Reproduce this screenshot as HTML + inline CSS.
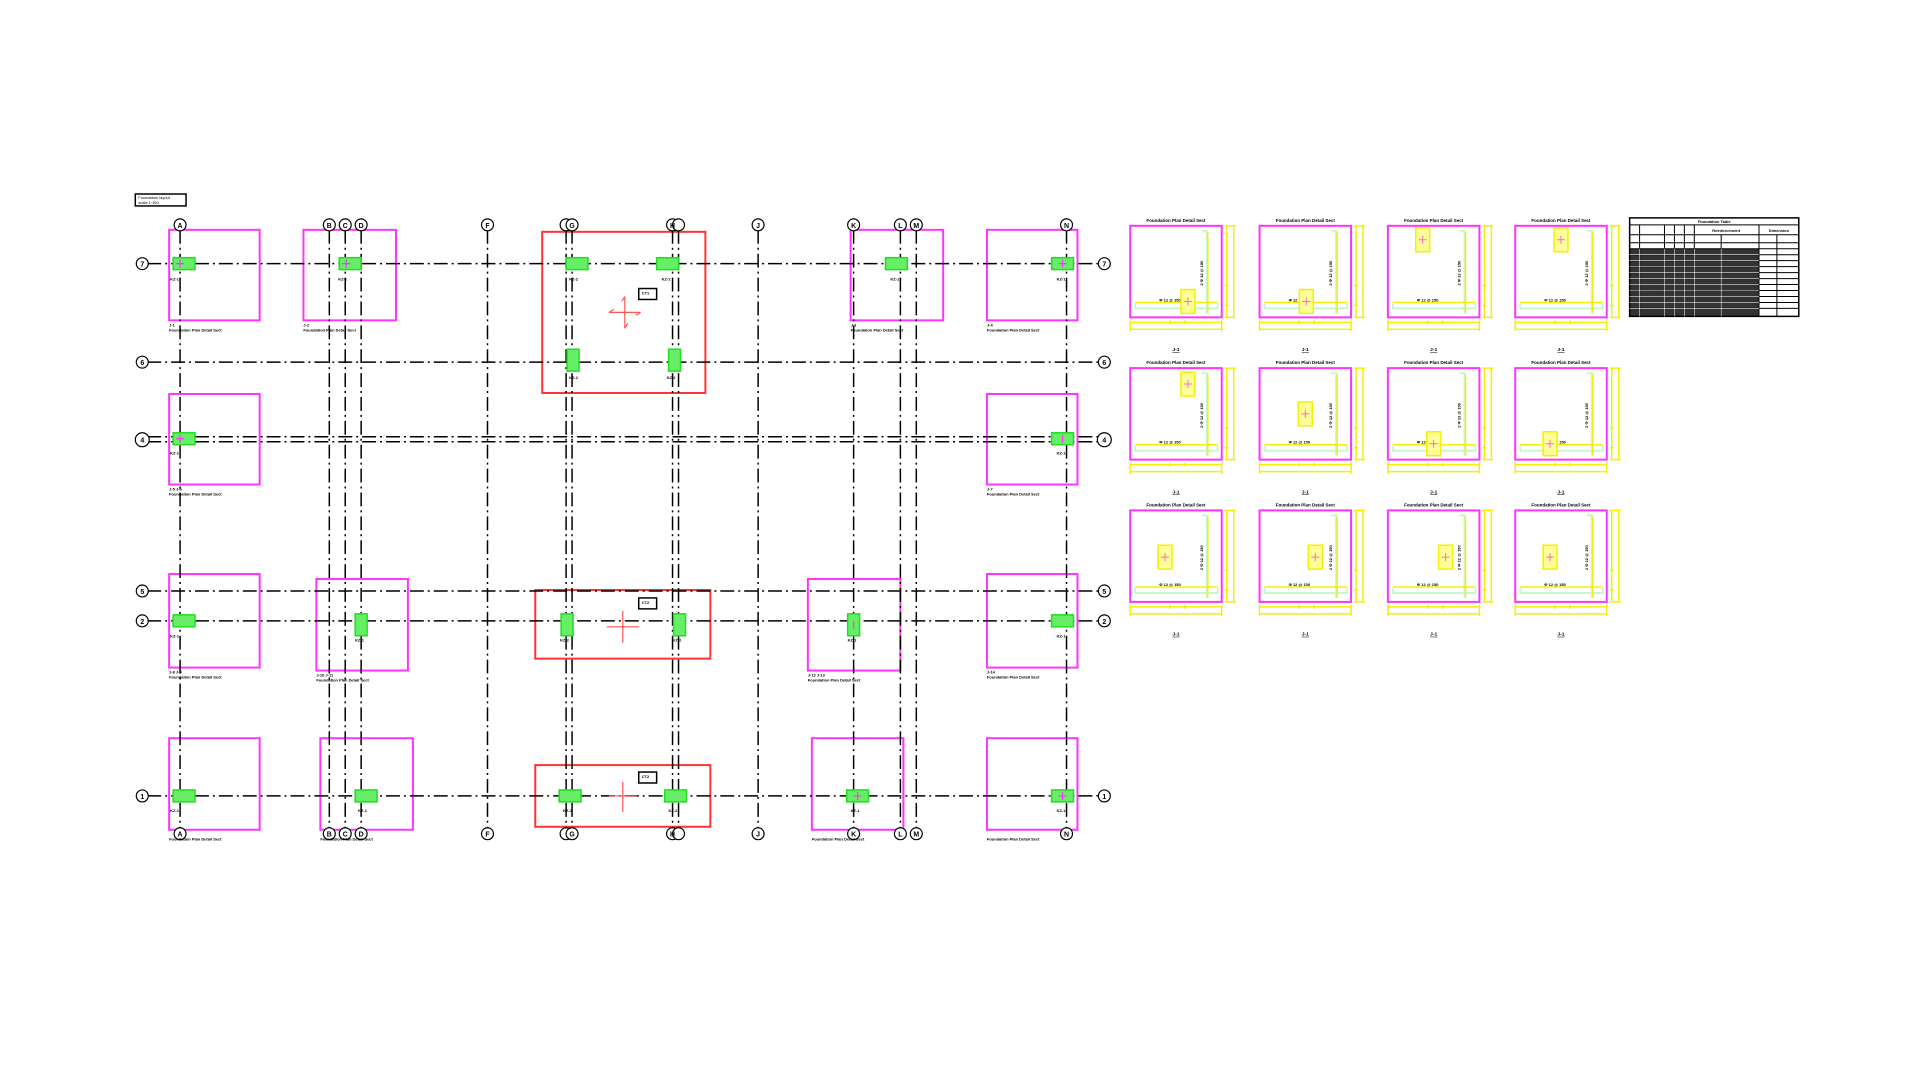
<!DOCTYPE html>
<html><head><meta charset="utf-8"><style>
html,body{margin:0;padding:0;background:#fff;}
svg{display:block;font-family:"Liberation Sans",sans-serif;}
</style></head><body>
<svg width="1920" height="1080" viewBox="0 0 1920 1080" xmlns="http://www.w3.org/2000/svg">
<defs>
<g id="pnl">
  <text x="46" y="-4" font-size="4.5" font-weight="bold" text-anchor="middle">Foundation Plan Detail Sect</text>
  <path d="M72 5 H77 V88 M5 78 V83 H88 V78" fill="none" stroke="#c8f7cf" stroke-width="2"/>
  <path d="M78 6 V88 M5 77 H88" stroke="#f5f000" stroke-width="1.5"/>
  <text x="0" y="0" font-size="4" font-weight="bold" transform="translate(73,60) rotate(-90)">2 Φ 12 @ 150</text>
  <text x="40" y="76" font-size="4" font-weight="bold" text-anchor="middle">Φ 12 @ 150</text>
  <rect x="0" y="0" width="92" height="92" fill="none" stroke="#ff33ff" stroke-width="2"/>
  <path d="M97 0 V92 M104 0 V92 M95 0 H106 M95 92 H106 M95 60 H99 M95 80 H99 M0 97 H92 M0 104 H92 M0 95 V106 M92 95 V106 M40 95 V99 M55 95 V99" stroke="#f5f000" stroke-width="1.5"/>
  <text x="46" y="126" font-size="5" font-weight="bold" text-anchor="middle" text-decoration="underline">J-1</text>
</g>
<g id="ft">
  <rect x="-7" y="-12" width="14" height="24" fill="#ffff99" stroke="#f5f000" stroke-width="1.5"/>
  <path d="M-4 0 H4 M0 -4 V4" stroke="#ff66cc" stroke-width="1"/>
</g>
<g id="gc"><rect x="-11" y="-6" width="22" height="12" fill="#66ee66" stroke="#22dd22" stroke-width="1.5"/></g>
<g id="gv"><rect x="-6" y="-11" width="12" height="22" fill="#66ee66" stroke="#22dd22" stroke-width="1.5"/></g>
</defs>
<g transform="scale(0.9949)">
<!-- title -->
<rect x="136" y="195" width="51" height="12" fill="none" stroke="#000" stroke-width="1.5"/>
<text x="139" y="200" font-size="4">Foundation layout</text>
<text x="139" y="205" font-size="4">scale 1:100</text>

<g fill="none" stroke="#ff33ff" stroke-width="2">
<rect x="170" y="231" width="91" height="91"/><rect x="305" y="231" width="93" height="91"/>
<rect x="855" y="231" width="93" height="91"/><rect x="992" y="231" width="91" height="91"/>
<rect x="170" y="396" width="91" height="91"/><rect x="992" y="396" width="91" height="91"/>
<rect x="170" y="577" width="91" height="94"/><rect x="318" y="582" width="92" height="92"/>
<rect x="812" y="582" width="93" height="92"/><rect x="992" y="577" width="91" height="94"/>
<rect x="170" y="742" width="91" height="92"/><rect x="322" y="742" width="93" height="92"/>
<rect x="816" y="742" width="92" height="92"/><rect x="992" y="742" width="91" height="92"/>
</g>
<g fill="none" stroke="#ff3333" stroke-width="2">
<rect x="545" y="233" width="164" height="162"/>
<rect x="538" y="593" width="176" height="69"/>
<rect x="538" y="769" width="176" height="62"/>
</g>

<g stroke="#000" stroke-width="1.5" stroke-dasharray="14 4 2 4" fill="none">
<path d="M148 265 H1105 M148 364 H1105 M148 439 H1105 M148 444 H1105 M148 594 H1105 M148 624 H1105 M148 800 H1105"/>
<path d="M181 231 V834 M331 231 V834 M347 231 V834 M363 231 V834 M490 231 V834 M569 231 V834 M575 231 V834 M676 231 V834 M682 231 V834 M762 231 V834 M858 231 V834 M905 231 V834 M921 231 V834 M1072 231 V834"/>
</g>

<g fill="#fff" stroke="#000" stroke-width="1.2" font-size="7" font-weight="bold">
<g>
<circle cx="181" cy="226" r="6"/><circle cx="331" cy="226" r="6"/><circle cx="347" cy="226" r="6"/><circle cx="363" cy="226" r="6"/><circle cx="490" cy="226" r="6"/><circle cx="569" cy="226" r="6"/><circle cx="575" cy="226" r="6"/><circle cx="676" cy="226" r="6"/><circle cx="682" cy="226" r="6"/><circle cx="762" cy="226" r="6"/><circle cx="858" cy="226" r="6"/><circle cx="905" cy="226" r="6"/><circle cx="921" cy="226" r="6"/><circle cx="1072" cy="226" r="6"/>
<circle cx="181" cy="838" r="6"/><circle cx="331" cy="838" r="6"/><circle cx="347" cy="838" r="6"/><circle cx="363" cy="838" r="6"/><circle cx="490" cy="838" r="6"/><circle cx="569" cy="838" r="6"/><circle cx="575" cy="838" r="6"/><circle cx="676" cy="838" r="6"/><circle cx="682" cy="838" r="6"/><circle cx="762" cy="838" r="6"/><circle cx="858" cy="838" r="6"/><circle cx="905" cy="838" r="6"/><circle cx="921" cy="838" r="6"/><circle cx="1072" cy="838" r="6"/>
<circle cx="143" cy="265" r="6"/><circle cx="143" cy="364" r="6"/><circle cx="143" cy="442" r="7"/><circle cx="143" cy="594" r="6"/><circle cx="143" cy="624" r="6"/><circle cx="143" cy="800" r="6"/>
<circle cx="1110" cy="265" r="6"/><circle cx="1110" cy="364" r="6"/><circle cx="1110" cy="442" r="7"/><circle cx="1110" cy="594" r="6"/><circle cx="1110" cy="624" r="6"/><circle cx="1110" cy="800" r="6"/>
</g>
<g fill="#000" stroke="none" text-anchor="middle" font-size="7">
<text x="181" y="229">A</text><text x="331" y="229">B</text><text x="347" y="229">C</text><text x="363" y="229">D</text><text x="490" y="229">F</text><text x="575" y="229">G</text><text x="676" y="229">H</text><text x="762" y="229">J</text><text x="858" y="229">K</text><text x="905" y="229">L</text><text x="921" y="229">M</text><text x="1072" y="229">N</text>
<text x="181" y="841">A</text><text x="331" y="841">B</text><text x="347" y="841">C</text><text x="363" y="841">D</text><text x="490" y="841">F</text><text x="575" y="841">G</text><text x="676" y="841">H</text><text x="762" y="841">J</text><text x="858" y="841">K</text><text x="905" y="841">L</text><text x="921" y="841">M</text><text x="1072" y="841">N</text>
<text x="143" y="268">7</text><text x="143" y="367">6</text><text x="143" y="445">4</text><text x="143" y="597">5</text><text x="143" y="627">2</text><text x="143" y="803">1</text>
<text x="1110" y="268">7</text><text x="1110" y="367">6</text><text x="1110" y="445">4</text><text x="1110" y="597">5</text><text x="1110" y="627">2</text><text x="1110" y="803">1</text>
</g>
</g>

<use href="#gc" x="185" y="265"/><use href="#gc" x="352" y="265"/><use href="#gc" x="580" y="265"/><use href="#gc" x="671" y="265"/><use href="#gc" x="901" y="265"/><use href="#gc" x="1068" y="265"/>
<use href="#gv" x="576" y="362"/><use href="#gv" x="678" y="362"/>
<use href="#gc" x="185" y="441"/><use href="#gc" x="1068" y="441"/>
<use href="#gc" x="185" y="624"/><use href="#gv" x="363" y="628"/><use href="#gv" x="570" y="628"/><use href="#gv" x="683" y="628"/><use href="#gv" x="858" y="628"/><use href="#gc" x="1068" y="624"/>
<use href="#gc" x="185" y="800"/><use href="#gc" x="368" y="800"/><use href="#gc" x="573" y="800"/><use href="#gc" x="679" y="800"/><use href="#gc" x="862" y="800"/><use href="#gc" x="1068" y="800"/>
<g stroke="#ff33ff" stroke-width="1.2"><path d="M181 261V269M177 265H185 M348 261V269M344 265H352 M1068 261V269M1064 265H1072 M181 437V445M177 441H185 M1068 437V445 M1068 796V804M1064 800H1072 M858 624V632 M862 796V804M858 800H866"/></g>

<g font-size="4" font-weight="bold">
<text x="171" y="282">KZ-1</text><text x="340" y="282">KZ-1</text><text x="572" y="282">KZ-2</text><text x="665" y="282">KZ-2</text><text x="895" y="282">KZ-1</text><text x="1062" y="282">KZ-1</text>
<text x="572" y="381">KZ-2</text><text x="670" y="381">KZ-2</text>
<text x="171" y="457">KZ-1</text><text x="1062" y="457">KZ-1</text>
<text x="171" y="641">KZ-1</text><text x="357" y="645">KZ-1</text><text x="563" y="645">KZ-2</text><text x="676" y="645">KZ-2</text><text x="852" y="645">KZ-1</text><text x="1062" y="641">KZ-1</text>
<text x="171" y="816">KZ-1</text><text x="360" y="816">KZ-1</text><text x="566" y="816">KZ-2</text><text x="672" y="816">KZ-2</text><text x="855" y="816">KZ-1</text><text x="1062" y="816">KZ-1</text>
</g>
<g font-size="4" font-weight="bold">
<text x="170" y="328">J-1</text><text x="170" y="333">Foundation Plan Detail Sect</text>
<text x="305" y="328">J-2</text><text x="305" y="333">Foundation Plan Detail Sect</text>
<text x="855" y="328">J-3</text><text x="855" y="333">Foundation Plan Detail Sect</text>
<text x="992" y="328">J-4</text><text x="992" y="333">Foundation Plan Detail Sect</text>
<text x="170" y="493">J-5 J-6</text><text x="170" y="498">Foundation Plan Detail Sect</text>
<text x="992" y="493">J-7</text><text x="992" y="498">Foundation Plan Detail Sect</text>
<text x="170" y="677">J-8 J-9</text><text x="170" y="682">Foundation Plan Detail Sect</text>
<text x="318" y="680">J-10 J-11</text><text x="318" y="685">Foundation Plan Detail Sect</text>
<text x="812" y="680">J-12 J-13</text><text x="812" y="685">Foundation Plan Detail Sect</text>
<text x="992" y="677">J-14</text><text x="992" y="682">Foundation Plan Detail Sect</text>
<text x="170" y="845">Foundation Plan Detail Sect</text><text x="322" y="845">Foundation Plan Detail Sect</text>
<text x="816" y="845">Foundation Plan Detail Sect</text><text x="992" y="845">Foundation Plan Detail Sect</text>
</g>
<g stroke="#ff5555" stroke-width="1.2" fill="none">
<path d="M612 314 H644 M628 298 V330 M612 314 L617 311 M644 314 L639 317 M628 298 L625 303 M628 330 L631 325"/>
<path d="M610 630 H642 M626 614 V646"/>
<path d="M612 800 H640 M626 786 V816"/>
</g>
<g fill="#fff" stroke="#000" stroke-width="1.5">
<rect x="642" y="290" width="18" height="11"/><rect x="642" y="601" width="18" height="11"/><rect x="642" y="776" width="18" height="11"/>
</g>
<g font-size="4" font-weight="bold"><text x="645" y="296">CT1</text><text x="645" y="607">CT2</text><text x="645" y="782">CT2</text></g>

<g transform="translate(1136,227)"><use href="#pnl"/><use href="#ft" x="58" y="76"/></g>
<g transform="translate(1266,227)"><use href="#pnl"/><use href="#ft" x="47" y="76"/></g>
<g transform="translate(1395,227)"><use href="#pnl"/><use href="#ft" x="35" y="14"/></g>
<g transform="translate(1523,227)"><use href="#pnl"/><use href="#ft" x="46" y="14"/></g>
<g transform="translate(1136,370)"><use href="#pnl"/><use href="#ft" x="58" y="16"/></g>
<g transform="translate(1266,370)"><use href="#pnl"/><use href="#ft" x="46" y="46"/></g>
<g transform="translate(1395,370)"><use href="#pnl"/><use href="#ft" x="46" y="76"/></g>
<g transform="translate(1523,370)"><use href="#pnl"/><use href="#ft" x="35" y="76"/></g>
<g transform="translate(1136,513)"><use href="#pnl"/><use href="#ft" x="35" y="47"/></g>
<g transform="translate(1266,513)"><use href="#pnl"/><use href="#ft" x="56" y="47"/></g>
<g transform="translate(1395,513)"><use href="#pnl"/><use href="#ft" x="58" y="47"/></g>
<g transform="translate(1523,513)"><use href="#pnl"/><use href="#ft" x="35" y="47"/></g>

<g transform="translate(1638,219)">
<rect x="0" y="0" width="170" height="99" fill="#fff" stroke="#000" stroke-width="1.5"/>
<rect x="0" y="31" width="130" height="68" fill="#000" opacity="0.8"/>
<g stroke="#000" stroke-width="1"><path d="M0 7 H170 M0 17 H170 M0 25 H170 M0 31 H170 M0 37 H170 M0 43 H170 M0 49 H170 M0 55 H170 M0 61 H170 M0 67 H170 M0 73 H170 M0 79 H170 M0 85 H170 M0 91 H170"/>
<path d="M10 7 V99 M35 7 V99 M45 7 V99 M55 7 V99 M65 7 V99 M92 17 V99 M130 7 V99 M148 17 V99"/></g>
<g stroke="#fff" stroke-width="0.6"><path d="M0 37 H130 M0 43 H130 M0 49 H130 M0 55 H130 M0 61 H130 M0 67 H130 M0 73 H130 M0 79 H130 M0 85 H130 M0 91 H130 M10 31 V99 M35 31 V99 M45 31 V99 M55 31 V99 M65 31 V99 M92 31 V99"/></g>
<text x="85" y="5" font-size="4" font-weight="bold" text-anchor="middle">Foundation Table</text>
<text x="97" y="14" font-size="4" font-weight="bold" text-anchor="middle">Reinforcement</text>
<text x="150" y="14" font-size="4" font-weight="bold" text-anchor="middle">Dimension</text>
</g>
</g>
</svg>
</body></html>
